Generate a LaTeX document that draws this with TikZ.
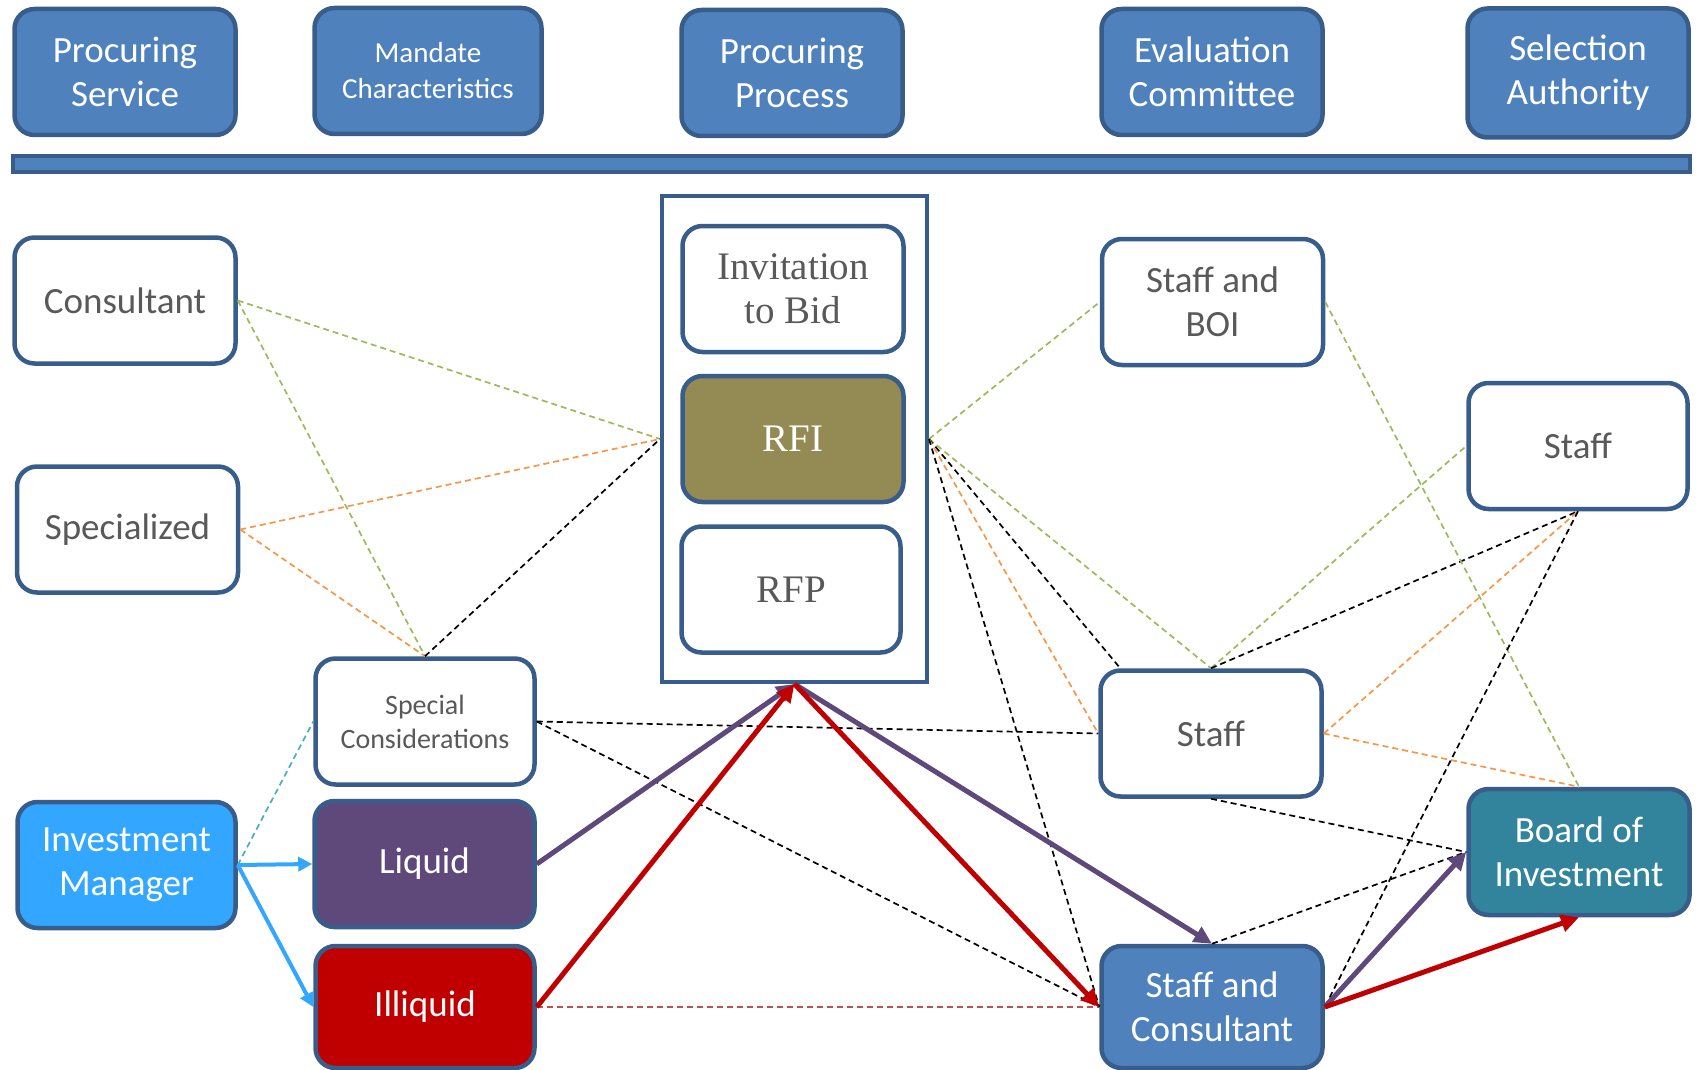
\documentclass[tikz,border=0pt]{standalone}
\usepackage{fontspec}
\setmainfont{Carlito}
\newfontfamily\seriffont{Liberation Serif}
\usetikzlibrary{arrows.meta}
\definecolor{bord}{HTML}{385D8A}
\definecolor{hblue}{HTML}{4F81BD}
\definecolor{cOlive}{HTML}{948A54}
\definecolor{imblue}{HTML}{33A6FF}
\definecolor{purp}{HTML}{5F497A}
\definecolor{dred}{HTML}{C00000}
\definecolor{cTeal}{HTML}{31849B}
\definecolor{txtgray}{HTML}{595959}
\definecolor{dgreen}{HTML}{9BBB59}
\definecolor{dorange}{HTML}{F79646}
\definecolor{dcyan}{HTML}{4BACC6}
\definecolor{dredl}{HTML}{C0504D}
\tikzset{
  box/.style={draw=bord, line width=4.5pt, rounded corners=20pt, inner sep=0pt,
    minimum width=221pt, minimum height=126pt, align=center,
    font=\fontsize{37}{44}\selectfont},
  wbox/.style={box, fill=white, text=txtgray},
  hbox/.style={box, fill=hblue, text=white},
  sbox/.style={wbox, font=\seriffont\fontsize{39}{44}\selectfont},
  dsh/.style={dash pattern=on 6pt off 4pt, line width=1.7pt},
  fat/.style={line width=5pt, -{Triangle[length=18pt,width=17pt]}},
  bluearr/.style={draw=imblue, line width=4pt, -{Triangle[length=14pt,width=14pt]}}
}
\begin{document}
\begin{tikzpicture}[x=1pt,y=-1pt]
\useasboundingbox (0,0) rectangle (1698,1070);
% header
\node[hbox] (ps) at (125,72) {Procuring\\Service};
\node[hbox, minimum width=227pt, font=\fontsize{29}{36}\selectfont] (mc) at (428,71) {Mandate\\Characteristics};
\node[hbox] (pp) at (792,73) {Procuring\\Process};
\node[hbox] (ec) at (1212,72) {Evaluation\\Committee};
\node[hbox, minimum height=129pt] (sa) at (1578,73) {\raisebox{-3pt}{\parbox{200pt}{\centering Selection\\Authority}}};
\node[draw=bord, fill=hblue, line width=4pt, minimum width=1677pt, minimum height=16pt, inner sep=0pt] (bar) at (851.5,164) {};
% process box
\node[draw=bord, line width=4pt, minimum width=265pt, minimum height=486pt, inner sep=0pt] (pbox) at (794.5,439) {};
\node[sbox] (itb) at (793,289) {Invitation\\to Bid};
\node[sbox, fill=cOlive, text=white] (rfi) at (793,439) {RFI};
\node[sbox, minimum width=219pt] (rfp) at (791,589.5) {RFP};
% left
\node[wbox] (cons) at (125,300.5) {Consultant};
\node[wbox] (spec) at (127.5,529.5) {Specialized};
\node[box, fill=imblue, text=white, minimum width=218pt] (im) at (126.5,865) {Investment\\Manager};
\node[wbox, minimum width=219pt, font=\fontsize{28}{34}\selectfont] (sc) at (425,721.5) {Special\\Considerations};
\node[box, fill=purp, text=white, minimum width=220pt] (liq) at (424.5,864) {Liquid};
\node[box, fill=dred, text=white, minimum width=219pt, minimum height=122pt] (ill) at (425,1007) {Illiquid};
% right
\node[wbox] (sboi) at (1212.5,302) {Staff and\\BOI};
\node[wbox] (staffm) at (1211,733.5) {Staff};
\node[hbox, minimum height=122pt] (sc2) at (1212,1007) {Staff and\\Consultant};
\node[wbox, minimum width=219pt] (staffr) at (1578,446) {Staff};
\node[box, fill=cTeal, text=white] (boi) at (1579,852) {Board of\\Investment};
% dashed connectors
\draw[dsh, dgreen] (cons.east) -- (pbox.west);
\draw[dsh, dgreen] (cons.east) -- (sc.north);
\draw[dsh, dorange] (spec.east) -- (pbox.west);
\draw[dsh, dorange] (spec.east) -- (sc.north);
\draw[dsh, black] (sc.north) -- (pbox.west);
\draw[dsh, dcyan] (im.east) -- (sc.west);
\draw[dsh, black] (sc.east) -- (staffm.west);
\draw[dsh, black] (sc.east) -- (sc2.west);
\draw[dsh, dredl] (ill.east) -- (sc2.west);
\draw[dsh, dgreen] (pbox.east) -- (sboi.west);
\draw[dsh, dgreen] (pbox.east) -- (staffm.north);
\draw[dsh, black] (pbox.east) -- ([xshift=22pt]staffm.north west);
\draw[dsh, dorange] (pbox.east) -- (staffm.west);
\draw[dsh, black] (pbox.east) -- (sc2.west);
\draw[dsh, dgreen] (staffm.north) -- (staffr.west);
\draw[dsh, black] (staffm.north) -- (staffr.south);
\draw[dsh, dorange] (staffm.east) -- (staffr.south);
\draw[dsh, dorange] (staffm.east) -- (boi.north);
\draw[dsh, dgreen] (sboi.east) -- (boi.north);
\draw[dsh, black] (staffr.south) -- (sc2.east);
\draw[dsh, black] (staffm.south) -- (boi.west);
\draw[dsh, black] (sc2.north) -- (boi.west);
% solid arrows
\draw[bluearr] (im.east) -- (liq.west);
\draw[bluearr] (im.east) -- (ill.west);
\draw[fat, purp] (liq.east) -- (pbox.south);
\draw[fat, dred] (ill.east) -- (pbox.south);
\draw[fat, purp] (pbox.south) -- (sc2.north);
\draw[fat, dred] (pbox.south) -- (sc2.west);
\draw[fat, purp] (sc2.east) -- (boi.west);
\draw[fat, dred] (sc2.east) -- (boi.south);
\end{tikzpicture}
\end{document}
